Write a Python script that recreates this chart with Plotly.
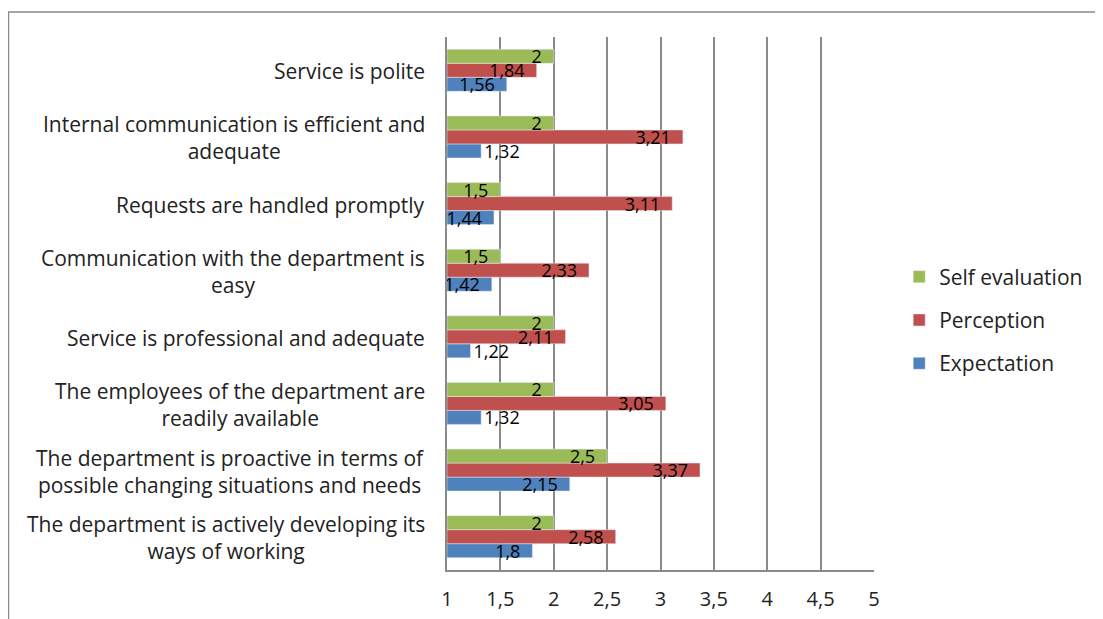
import plotly.graph_objects as go

# Categories in reading order (top to bottom)
categories = [
    "Service is polite",
    "Internal communication is efficient and<br>adequate",
    "Requests are handled promptly",
    "Communication with the department is<br>easy",
    "Service is professional and adequate",
    "The employees of the department are<br>readily available",
    "The department is proactive in terms of<br>possible changing situations and needs",
    "The department is actively developing its<br>ways of working",
]
self_evaluation = [2, 2, 1.5, 1.5, 2, 2, 2.5, 2]
perception = [1.84, 3.21, 3.11, 2.33, 2.11, 3.05, 3.37, 2.58]
expectation = [1.56, 1.32, 1.44, 1.42, 1.22, 1.32, 2.15, 1.8]

tick_vals = [1, 1.5, 2, 2.5, 3, 3.5, 4, 4.5, 5]
tick_text = ["1", "1,5", "2", "2,5", "3", "3,5", "4", "4,5", "5"]

BASE = 1
FONT = "Open Sans"
GRID = "#8a8a8a"


def fmt(v, pad=True):
    # comma decimals, with a little padding before the bar end
    s = f"{v:g}".replace(".", ",")
    return s + "\u2002" if pad else s


fig = go.Figure()
series = [
    ("Expectation", expectation, "#4F81BD", 3),
    ("Perception", perception, "#C0504D", 2),
    ("Self evaluation", self_evaluation, "#9BBB59", 1),
]
for name, vals, color, rank in series:
    # very short bars can't hold their label, put it just past the end
    short = [v - BASE < 0.35 for v in vals]
    fig.add_bar(
        y=categories,
        x=[v - BASE for v in vals],
        base=BASE,
        orientation="h",
        name=name,
        legendgroup=name,
        legendrank=rank,
        marker_color=color,
        text=[fmt(v, not s) for v, s in zip(vals, short)],
        textposition=["outside" if s else "inside" for s in short],
        insidetextanchor="end",
        textangle=0,
        constraintext="none",
        textfont=dict(color="black", size=18, family=FONT),
        cliponaxis=False,
    )

# category labels as centred annotations
for cat in categories:
    fig.add_annotation(
        x=0, xref="paper", xanchor="right", xshift=-20,
        y=cat, yref="y", yshift=-1,
        text=cat, showarrow=False, align="center",
        font=dict(family=FONT, size=21, color="#222"),
    )

# outer chart border
fig.add_shape(
    type="rect", xref="paper", yref="paper",
    x0=-1.027, x1=1.6, y0=-0.2, y1=1.047,
    line=dict(color=GRID, width=1.5), fillcolor="rgba(0,0,0,0)", layer="below",
)

fig.update_layout(
    width=1103,
    height=619,
    margin=dict(l=439, r=237, t=29, b=57),
    barmode="group",
    bargap=0.37,
    bargroupgap=0,
    plot_bgcolor="white",
    paper_bgcolor="white",
    font=dict(family=FONT, size=20, color="#222"),
    uniformtext=dict(mode="show", minsize=18),
    legend=dict(
        x=1.059, y=0.469, xanchor="left", yanchor="middle",
        traceorder="grouped", tracegroupgap=13,
        font=dict(size=21, family=FONT),
    ),
)
fig.update_xaxes(
    range=[1, 5],
    tickvals=tick_vals,
    ticktext=tick_text,
    showgrid=True, gridcolor=GRID, gridwidth=1.5,
    showline=True, linecolor=GRID, linewidth=1.5,
    zeroline=False,
    ticks="outside", ticklen=0,
    ticklabelstandoff=10,
)
fig.update_yaxes(
    categoryorder="array",
    categoryarray=categories[::-1],
    showticklabels=False,
    showgrid=False,
    showline=True, linecolor=GRID, linewidth=1.5,
)

fig.write_html("out.html")
